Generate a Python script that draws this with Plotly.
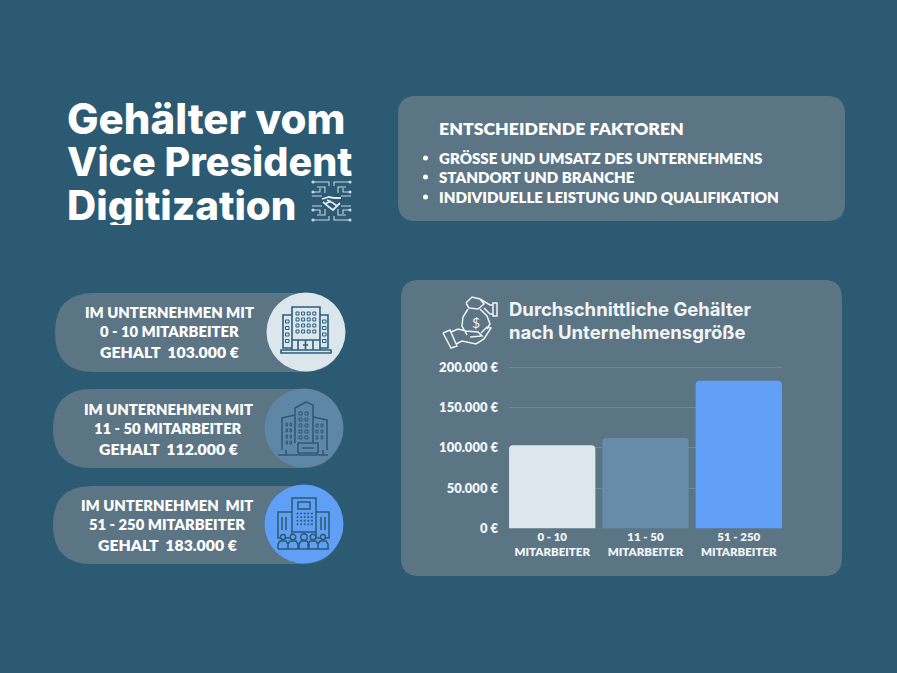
import plotly.graph_objects as go

W = 897
H = 673

# chart data
categories = ['0 - 10<br>MITARBEITER', '11 - 50<br>MITARBEITER', '51 - 250<br>MITARBEITER']
salaries = [103000, 112000, 183000]
bar_colors = ['#dce6ec', '#668ca9', '#62a0f8']
tick_values = [0, 50000, 100000, 150000, 200000]
tick_labels = ['0 €', '50.000 €', '100.000 €', '150.000 €', '200.000 €']

# texts
title_lines = ['Gehälter vom', 'Vice President', 'Digitization']
factors_head = 'ENTSCHEIDENDE FAKTOREN'
factors = ['GRÖSSE UND UMSATZ DES UNTERNEHMENS', 'STANDORT UND BRANCHE', 'INDIVIDUELLE LEISTUNG UND QUALIFIKATION']
chart_title = ['Durchschnittliche Gehälter', 'nach Unternehmensgröße']
pill_lines = [
    ['IM UNTERNEHMEN MIT', '0 - 10 MITARBEITER', 'GEHALT\u00a0\u00a0103.000 €'],
    ['IM UNTERNEHMEN MIT', '11 - 50 MITARBEITER', 'GEHALT\u00a0\u00a0112.000 €'],
    ['IM UNTERNEHMEN\u00a0\u00a0MIT', '51 - 250 MITARBEITER', 'GEHALT\u00a0\u00a0183.000 €'],
]

BG = '#2c5a72'
PANEL = '#5c7585'
HEAD_FONT = 'Inter'
SMALL_FONT = 'Lato'


def px(x):
    return x / W


def py(y):
    return 1 - y / H


def pt(x, y):
    return f'{px(x):.5f},{py(y):.5f}'


def rect_path(x0, y0, x1, y1):
    return f'M{pt(x0, y0)} L{pt(x1, y0)} L{pt(x1, y1)} L{pt(x0, y1)} Z '


def line_path(points, close=False):
    s = 'M' + ' L'.join(pt(x, y) for x, y in points)
    return s + (' Z ' if close else ' ')


def round_rect(x0, y0, x1, y1, r, color):
    path = (f'M{pt(x0 + r, y0)} L{pt(x1 - r, y0)} Q{pt(x1, y0)} {pt(x1, y0 + r)} '
            f'L{pt(x1, y1 - r)} Q{pt(x1, y1)} {pt(x1 - r, y1)} '
            f'L{pt(x0 + r, y1)} Q{pt(x0, y1)} {pt(x0, y1 - r)} '
            f'L{pt(x0, y0 + r)} Q{pt(x0, y0)} {pt(x0 + r, y0)} Z')
    return dict(type='path', xref='paper', yref='paper', path=path,
                fillcolor=color, line_width=0, layer='below')


def circle(cx, cy, r, fill=None, line=None, width=1.5, layer='above'):
    return dict(type='circle', xref='paper', yref='paper',
                x0=px(cx - r), x1=px(cx + r), y0=py(cy + r), y1=py(cy - r),
                fillcolor=fill if fill else 'rgba(0,0,0,0)',
                line=dict(color=line if line else 'rgba(0,0,0,0)', width=width if line else 0),
                layer=layer)


def stroke(path, color, width=1.5):
    return dict(type='path', xref='paper', yref='paper', path=path,
                line=dict(color=color, width=width), fillcolor='rgba(0,0,0,0)')


def text(x, y, s, size, font=SMALL_FONT, anchor='center', color='white', weight=800, height=None):
    # annotations carry 2px of padding on the left
    if anchor == 'left':
        x -= 2
    return dict(xref='paper', yref='paper', x=px(x), y=py(y), text=s,
                showarrow=False, xanchor=anchor, yanchor='middle', height=height,
                font=dict(family=font, size=size, color=color, weight=weight))


def windows(x0, y0, cols, rows, dx, dy, w, h):
    s = ''
    for c in range(cols):
        for r in range(rows):
            s += rect_path(x0 + c * dx, y0 + r * dy, x0 + c * dx + w, y0 + r * dy + h)
    return s


shapes = []
annotations = []

# panels
shapes.append(round_rect(398, 96, 845, 221, 18, PANEL))
shapes.append(round_rect(401, 280, 842, 576, 18, PANEL))

# title
for y, line, size in zip([118, 162, 205], title_lines, [42, 39.5, 40.4]):
    annotations.append(text(67, y, line, size, font=HEAD_FONT, anchor='left', height=40))

# factors box
annotations.append(text(439, 128, factors_head, 17.7, anchor='left'))
for y, line in zip([158, 177, 197], factors):
    annotations.append(text(439, y, line, 15.1, anchor='left'))
    shapes.append(circle(425.5, y, 2.5, fill='white'))

# pills on the left
pill_boxes = [(55, 293, 342, 372), (53, 389, 340, 468), (53, 486, 340, 564)]
pill_circles = [(306, 332, '#dbe6ed'), (304, 428, '#5f87a5'), (304, 524, '#5f9ff5')]
pill_text_x = [169, 168, 167]
pill_text_y = [[312, 331, 351], [409, 428, 448], [505, 524, 544]]
for i in range(3):
    x0, y0, x1, y1 = pill_boxes[i]
    shapes.append(round_rect(x0, y0, x1, y1, 39, PANEL))
    cx, cy, col = pill_circles[i]
    shapes.append(circle(cx, cy, 39.5, fill=col))
    for y, line, size in zip(pill_text_y[i], pill_lines[i], [14.8, 14.8, 15.8]):
        annotations.append(text(pill_text_x[i], y, line, size))

# building icon 1
ic = '#2c5f7c'
p = rect_path(292, 307, 320, 340) + rect_path(283, 315, 292, 348) + rect_path(320, 315, 328, 348)
p += rect_path(281, 350, 331, 353) + rect_path(298, 340, 313, 350)
p += line_path([(305.5, 340), (305.5, 350)]) + line_path([(303, 345), (308, 345)])
p += line_path([(292, 340), (292, 350)]) + line_path([(320, 340), (320, 350)])
shapes.append(stroke(p, ic, 1.6))
shapes.append(stroke(windows(296, 312, 4, 4, 5.6, 6, 3, 3), ic, 1))
shapes.append(stroke(windows(285.5, 320, 1, 4, 0, 6.5, 3.5, 3) + windows(322.5, 320, 1, 4, 0, 6.5, 3.5, 3), ic, 1))

# building icon 2
ic = '#2f5a75'
p = line_path([(282, 450), (282, 418), (295, 415)]) + line_path([(295, 443), (295, 408), (306, 402), (313, 405), (313, 443)])
p += line_path([(313, 417), (327, 420), (327, 450)]) + rect_path(298, 443, 318, 453)
p += line_path([(278, 455), (328, 455)]) + line_path([(286, 450), (286, 455)]) + line_path([(323, 450), (323, 455)])
p += line_path([(302, 448), (314, 448)])
shapes.append(stroke(p, ic, 1.6))
shapes.append(stroke(windows(286, 423, 2, 4, 4, 6, 1.5, 3) + windows(299, 412, 2, 5, 6, 6, 3, 3) + windows(316, 424, 2, 3, 5, 6, 2, 3), ic, 1))

# building icon 3
ic = '#2c5a72'
p = rect_path(292, 498, 316, 532) + rect_path(278, 512, 292, 538) + rect_path(316, 512, 329, 538)
p += rect_path(298, 502, 310, 509)
p += line_path([(282, 517), (282, 530)]) + line_path([(286, 517), (286, 530)])
p += line_path([(321, 517), (321, 530)]) + line_path([(325, 517), (325, 530)])
for hx in [283, 293, 304, 313, 323]:
    p += line_path([(hx - 5, 549), (hx - 5, 544), (hx - 3, 541), (hx + 3, 541), (hx + 5, 544), (hx + 5, 549)])
p += line_path([(278, 549), (329, 549)])
shapes.append(stroke(p, ic, 1.5))
for hx, r in zip([283, 293, 304, 313, 323], [2.5, 2.8, 3.2, 2.8, 2.5]):
    shapes.append(circle(hx, 537, r, fill=pill_circles[2][2], line=ic, width=1.4))
shapes.append(stroke(windows(297, 513, 5, 4, 3.6, 3.6, 1, 1), ic, 1))

# money hand icon
ic = '#eef3f6'
p = line_path([(468, 309), (463, 317), (462, 326), (467, 335)])
p += line_path([(480, 309), (487, 316), (490, 324), (487, 329)])
p += line_path([(466, 303), (472, 297), (480, 299), (484, 304), (478, 309), (469, 308), (466, 303)])
p += line_path([(480, 299), (490, 305), (493, 305)]) + line_path([(484, 308), (490, 314), (493, 314)])
p += rect_path(493, 303, 497, 316)
p += line_path([(443, 333), (450, 330), (457, 346), (451, 348), (443, 333)])
p += line_path([(451, 332), (458, 329), (466, 331), (478, 332), (482, 336), (470, 337)])
p += line_path([(456, 344), (462, 341), (476, 344), (484, 339), (491, 328), (487, 327), (481, 333)])
shapes.append(stroke(p, ic, 1.5))
annotations.append(text(476, 322, '$', 14, color=ic, weight=400))

# circuit handshake icon next to the title, one quadrant mirrored four ways
ic = '#c6d6df'
quadrant = [
    [(313, 182), (329, 182), (329, 186)],
    [(317, 187), (325, 187), (325, 193)],
    [(313, 192), (320, 192), (320, 188)],
    [(312, 196), (322, 196)],
]
p = ''
for quad in quadrant:
    p += line_path(quad)
    p += line_path([(663 - x, y) for x, y in quad])
    p += line_path([(x, 402 - y) for x, y in quad])
    p += line_path([(663 - x, 402 - y) for x, y in quad])
shapes.append(stroke(p, ic, 1.1))
p = line_path([(322, 199), (329, 197), (334, 198), (341, 198)])
p += line_path([(323, 202), (329, 207), (333, 210), (340, 203)])
p += line_path([(327, 200), (333, 203), (337, 206)]) + line_path([(325, 204), (331, 201)])
shapes.append(stroke(p, '#dfe8ee', 1.8))
for nx, ny in [(313, 182), (350, 182), (313, 192), (350, 192), (313, 210), (350, 210), (313, 220), (350, 220)]:
    shapes.append(circle(nx, ny, 1.6, fill=ic))

# chart heading
for y, line in zip([309, 332], chart_title):
    annotations.append(text(509, y, line, 18.5, font=HEAD_FONT, anchor='left', color='#f1f5f7', weight=700))

# y axis runs a little past 200.000 so the top gridline is not cut off
y_top = 205000
y_px = 161.5 * y_top / 200000

fig = go.Figure()
fig.add_trace(go.Bar(x=categories, y=salaries, marker=dict(color=bar_colors, line_width=0), hoverinfo='skip'))

fig.update_layout(
    width=W, height=H, autosize=False,
    margin=dict(l=0, r=0, t=0, b=0, autoexpand=False),
    paper_bgcolor=BG,
    plot_bgcolor='rgba(0,0,0,0)',
    showlegend=False,
    bargap=0.075,
    barcornerradius=4,
    shapes=shapes,
    annotations=annotations,
    xaxis=dict(
        domain=[px(509), px(782)], range=[-0.463, 2.463], fixedrange=True,
        showgrid=False, zeroline=False, showline=False, ticks='',
        tickfont=dict(family=SMALL_FONT, size=11.5, color='#f1f5f7', weight=800),
        tickangle=0,
    ),
    yaxis=dict(
        domain=[py(528.5), py(528.5 - y_px)], range=[0, y_top], fixedrange=True,
        tickvals=tick_values, ticktext=tick_labels,
        gridcolor='#6f8a9a', gridwidth=1, zeroline=False, showline=False, ticks='',
        tickfont=dict(family=SMALL_FONT, size=13, color='#f1f5f7', weight=800),
        ticklabelstandoff=10,
    ),
)

# the page's default margin would push the figure off the window
fig.write_html('out.html', config={'displayModeBar': False},
               post_script="document.body.style.margin='0';document.body.style.overflow='hidden';")
